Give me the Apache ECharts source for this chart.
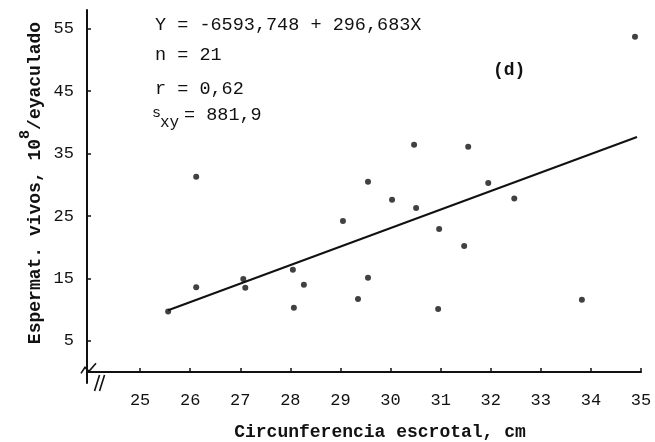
<!DOCTYPE html>
<html>
<head>
<meta charset="utf-8">
<script src="https://cdn.jsdelivr.net/npm/echarts@6/dist/echarts.min.js"></script>
<style>
  html, body { margin: 0; padding: 0; background: #fff; }
  #chart { width: 655px; height: 442px; }
</style>
</head>
<body>
<div id="chart"></div>
<script>
// Scrotal circumference (cm) against live sperm per ejaculate (10^8)
const circumference = [25.56, 26.12, 26.12, 27.06, 27.10, 28.05, 28.07, 28.27, 29.05, 29.35, 29.55,
                       29.55, 30.03, 30.47, 30.51, 30.97, 30.95, 31.55, 31.47, 31.95, 32.47, 33.82, 34.88];
const liveSperm    = [9.7, 31.3, 13.6, 14.9, 13.5, 16.4, 10.3, 14.0, 24.2, 11.7, 15.1,
                       30.5, 27.6, 36.4, 26.3, 22.9, 10.1, 36.1, 20.2, 30.3, 27.8, 11.6, 53.7];

// Tick labels
const xTicks = [25, 26, 27, 28, 29, 30, 31, 32, 33, 34, 35];
const yTicks = [5, 15, 25, 35, 45, 55];

// Regression Y = a + bX (Y in 10^6 per ejaculate, axis in 10^8)
const intercept = -6593.748;
const slope = 296.683;
const yUnitScale = 100;
const lineRange = [25.56, 34.92];

const statLines = ['Y = -6593,748 + 296,683X', 'n = 21', 'r = 0,62'];
const sxyValue = '= 881,9';

const fitLine = lineRange.map(x => [x, (intercept + slope * x) / yUnitScale]);
const points = circumference.map((x, i) => [x, liveSperm[i]]);

const mono = '"Liberation Mono", "DejaVu Sans Mono", monospace';
const ink = '#111';

const chart = echarts.init(document.getElementById('chart'));

chart.setOption({
  animation: false,
  backgroundColor: '#fff',
  grid: { left: 87, right: 14, top: 10, bottom: 59 },
  xAxis: {
    type: 'value',
    min: 23.94,
    max: 35,
    axisLine: { lineStyle: { color: ink, width: 2 } },
    axisTick: { inside: true, length: 4, customValues: xTicks, lineStyle: { color: ink, width: 1.5 } },
    axisLabel: { customValues: xTicks, color: ink, fontFamily: mono, fontSize: 17, margin: 9 },
    splitLine: { show: false }
  },
  yAxis: {
    type: 'value',
    min: -1.75,
    max: 58,
    axisLine: { lineStyle: { color: ink, width: 2 } },
    axisTick: { inside: true, length: 4, customValues: yTicks, lineStyle: { color: ink, width: 1.5 } },
    axisLabel: { customValues: yTicks, color: ink, fontFamily: mono, fontSize: 17, margin: 13 },
    splitLine: { show: false }
  },
  series: [
    {
      type: 'scatter',
      data: points,
      symbol: 'circle',
      symbolSize: 6,
      itemStyle: { color: ink }
    },
    {
      type: 'line',
      data: fitLine,
      symbol: 'none',
      lineStyle: { color: ink, width: 2 }
    }
  ]
});

// Axis break marks and annotations
const px = (x, y) => chart.convertToPixel({ gridIndex: 0 }, [x, y]);
const origin = px(23.94, -1.75);
const xBreak = px(24.17, -1.75);
const yBreak = px(23.94, 0.6);

const textStyle = (text, size) => ({ text, fill: ink, font: size + 'px ' + mono, verticalAlign: 'middle' });

chart.setOption({
  graphic: [
    // "//" on the horizontal axis
    { type: 'line', shape: { x1: xBreak[0] - 4, y1: origin[1] + 8, x2: xBreak[0] + 1, y2: origin[1] - 8 }, style: { stroke: ink, lineWidth: 1.6 } },
    { type: 'line', shape: { x1: xBreak[0] + 1, y1: origin[1] + 8, x2: xBreak[0] + 6, y2: origin[1] - 8 }, style: { stroke: ink, lineWidth: 1.6 } },
    // zigzag on the vertical axis
    { type: 'polyline', shape: { points: [[yBreak[0] - 6, yBreak[1] + 5], [yBreak[0] - 2, yBreak[1] - 1], [yBreak[0] + 2, yBreak[1] + 3], [yBreak[0] + 9, yBreak[1] - 5]] }, style: { stroke: ink, lineWidth: 1.6, fill: null } },

    { type: 'text', left: 155, top: 16, style: textStyle(statLines[0], 18.5) },
    { type: 'text', left: 155, top: 46, style: textStyle(statLines[1], 18.5) },
    { type: 'text', left: 155, top: 80, style: textStyle(statLines[2], 18.5) },
    { type: 'text', left: 152, top: 106, style: textStyle('s', 15) },
    { type: 'text', left: 160, top: 115, style: textStyle('xy', 16) },
    { type: 'text', left: 184, top: 106, style: textStyle(sxyValue, 18.5) },
    { type: 'text', left: 493, top: 61, style: { text: '(d)', fill: ink, font: 'bold 18px ' + mono, verticalAlign: 'middle' } },

    { type: 'text', x: 380, y: 432, style: { text: 'Circunferencia escrotal, cm', fill: ink, font: 'bold 18px ' + mono, align: 'center', verticalAlign: 'middle' } },
    {
      type: 'text', x: 31, y: 183, rotation: Math.PI / 2,
      style: {
        text: '{a|Espermat. vivos, 10}{sup|8}{a|/eyaculado}',
        align: 'center', verticalAlign: 'middle',
        rich: {
          a: { fill: ink, fontFamily: mono, fontWeight: 'bold', fontSize: 18, lineHeight: 26, verticalAlign: 'bottom' },
          sup: { fill: ink, fontFamily: mono, fontWeight: 'bold', fontSize: 15, lineHeight: 15, verticalAlign: 'top' }
        }
      }
    }
  ]
});
</script>
</body>
</html>
